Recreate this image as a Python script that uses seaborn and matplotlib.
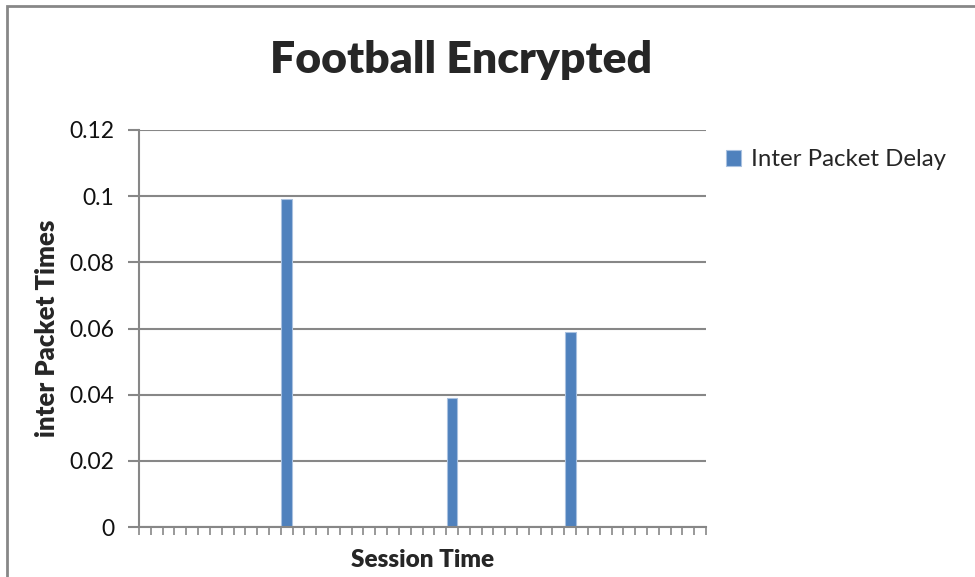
import numpy as np
import pandas as pd
import matplotlib
matplotlib.use("Agg")
import matplotlib.pyplot as plt
from matplotlib.patches import Rectangle
import seaborn as sns

# Inter-packet delay per session time slot (48 slots)
slots = list(range(1, 49))
delays = [0, 0, 0, 0, 0, 0, 0, 0, 0, 0, 0, 0,
          0.099, 0, 0, 0, 0, 0, 0, 0, 0, 0, 0, 0,
          0, 0, 0.039, 0, 0, 0, 0, 0, 0, 0, 0, 0,
          0.059, 0, 0, 0, 0, 0, 0, 0, 0, 0, 0, 0]
y_ticks = [0, 0.02, 0.04, 0.06, 0.08, 0.1, 0.12]
y_tick_labels = ["0", "0.02", "0.04", "0.06", "0.08", "0.1", "0.12"]

title = "Football Encrypted"
x_label = "Session Time"
y_label = "inter Packet Times"
series_name = "Inter Packet Delay"

df = pd.DataFrame({"slot": slots, "delay": delays, "series": series_name})

sns.set_theme(style="white")
plt.rcParams["font.family"] = ["Lato", "DejaVu Sans"]

grey = "#878787"
blue = "#4F81BD"

fig = plt.figure(figsize=(9.75, 5.77), dpi=100)
ax = fig.add_axes([139 / 975, 1 - 527 / 577, (706 - 139) / 975, (527 - 130) / 577])

sns.barplot(data=df, x="slot", y="delay", hue="series", palette=[blue],
            saturation=1, width=0.92, edgecolor="#a9c1e0", linewidth=0.8,
            ax=ax, legend=True)

ax.set_ylim(0, 0.12)
ax.set_xlim(-0.5, len(slots) - 0.5)
ax.set_yticks(y_ticks)
ax.set_yticklabels(y_tick_labels, fontsize=16.5, color="#111111")
ax.set_xticks(np.arange(-0.5, len(slots), 1.0))
ax.set_xticklabels([])

ax.yaxis.grid(True, color=grey, linewidth=1.5)
ax.set_axisbelow(True)
for side in ("top", "right"):
    ax.spines[side].set_visible(False)
for side in ("left", "bottom"):
    ax.spines[side].set_color(grey)
    ax.spines[side].set_linewidth(1.5)
ax.tick_params(axis="y", which="major", direction="out", length=8,
               width=1.5, color=grey, left=True, pad=10)
ax.tick_params(axis="x", which="major", direction="out", length=6,
               width=1.2, color=grey, bottom=True)

ax.set_xlabel(x_label, fontsize=17.5, fontweight="heavy", labelpad=6)
ax.set_ylabel(y_label, fontsize=18.5, fontweight="heavy", labelpad=7)

fig.text(461 / 975, 1 - 60 / 577, title, fontsize=32, fontweight="heavy",
         ha="center", va="center")

handles, labels = ax.get_legend_handles_labels()
ax.legend(handles, labels, loc="center left",
          bbox_to_anchor=(704 / 975, 1 - 160 / 577),
          bbox_transform=fig.transFigure, frameon=False, fontsize=17.3,
          handlelength=0.65, handleheight=0.65, handletextpad=0.4)

# chart-area frame (left and top edges fall inside the canvas)
fig.patches.append(Rectangle((6.5 / 975, -0.1), 1.2, 1 - 6 / 577 + 0.1,
                             transform=fig.transFigure, fill=False,
                             edgecolor=grey, linewidth=2))

fig.savefig("out.png", dpi=100, facecolor="white")
